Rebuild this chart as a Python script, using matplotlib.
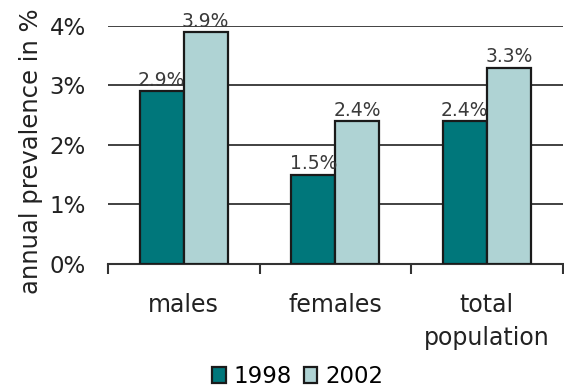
import matplotlib.pyplot as plt
import numpy as np

plt.rcParams['font.family'] = ['DejaVu Sans']

categories = ["males", "females", "total\npopulation"]
years = ["1998", "2002"]
values_1998 = [2.9, 1.5, 2.4]
values_2002 = [3.9, 2.4, 3.3]
yticks = [0, 1, 2, 3, 4]

colors = ["#00777B", "#AFD3D4"]

fig = plt.figure(figsize=(5.64, 3.88), dpi=100)
ax = fig.add_axes([0.1915, 0.3196, 0.806, 0.6134])

x = np.arange(len(categories))
w = 0.29
b1 = ax.bar(x - w / 2, values_1998, w, color=colors[0], edgecolor="#1a1a1a",
            linewidth=1.6, label=years[0], zorder=3)
b2 = ax.bar(x + w / 2, values_2002, w, color=colors[1], edgecolor="#1a1a1a",
            linewidth=1.6, label=years[1], zorder=3)

for bars, vals in ((b1, values_1998), (b2, values_2002)):
    for r, v in zip(bars, vals):
        ax.annotate(f"{v:.1f}%", (r.get_x() + r.get_width() / 2, v),
                    xytext=(0, 1), textcoords="offset points",
                    ha="center", va="bottom", fontsize=13.5, color="#3a3a3a",
                    zorder=4, annotation_clip=False)

ax.set_xlim(-0.5, 2.5)
ax.set_ylim(0, 4)
ax.set_yticks(yticks)
ax.set_yticklabels([f"{t}%" for t in yticks], fontsize=16.5, color="#222222")
ax.yaxis.grid(True, color="#333333", linewidth=1.3, zorder=0)
ax.tick_params(axis="y", length=0, pad=16)

ax.set_xticks(x)
ax.set_xticklabels(categories, fontsize=17, color="#222222", linespacing=1.45)
ax.set_xticks([-0.5, 0.5, 1.5, 2.5], minor=True)
ax.tick_params(axis="x", which="major", length=0, pad=21)
ax.tick_params(axis="x", which="minor", length=7, width=1.5, color="#333333")

for s in ("top", "right", "left"):
    ax.spines[s].set_visible(False)
ax.spines["bottom"].set_color("#333333")
ax.spines["bottom"].set_linewidth(1.5)

ax.set_ylabel("annual prevalence in %", fontsize=17.5, color="#222222")
ax.yaxis.set_label_coords(-0.143, 0.475)

fig.legend(handles=[b1, b2], labels=years, loc="center", bbox_to_anchor=(0.528, 0.03),
           ncol=2, frameon=False, fontsize=16.5, handlelength=0.6, handleheight=0.7,
           handletextpad=0.35, columnspacing=0.5, borderaxespad=0, borderpad=0)

fig.savefig("out.png", dpi=100)
